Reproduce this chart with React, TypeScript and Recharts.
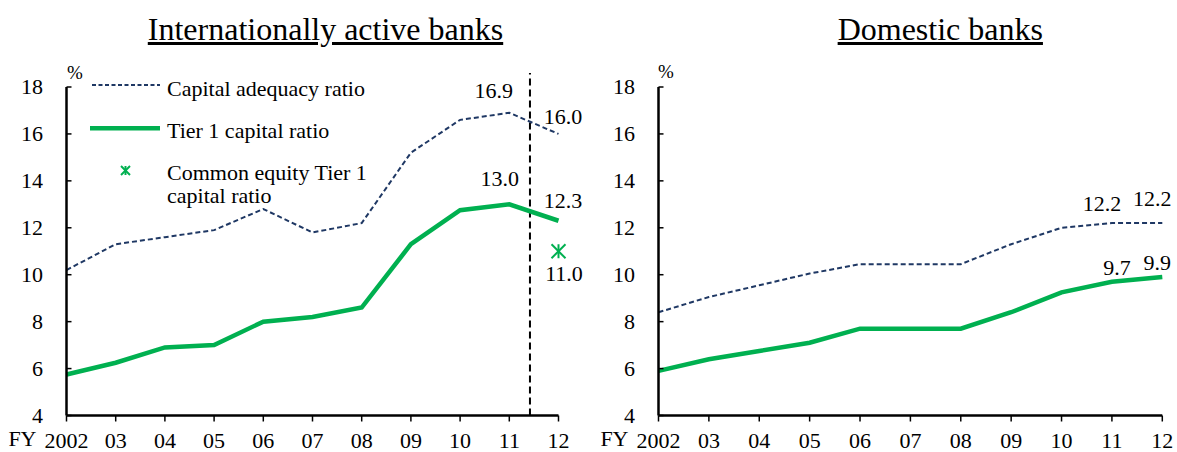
import React from 'react';
import { LineChart, Line, XAxis, YAxis, ReferenceLine, Legend, LabelList } from 'recharts';

// ---------- data ----------
const years = [2002, 2003, 2004, 2005, 2006, 2007, 2008, 2009, 2010, 2011, 2012];
const yearTickLabels = ['2002', '03', '04', '05', '06', '07', '08', '09', '10', '11', '12'];
const yTicks = [4, 6, 8, 10, 12, 14, 16, 18];

const intlCapitalAdequacy = [10.2, 11.3, 11.6, 11.9, 12.8, 11.8, 12.2, 15.2, 16.6, 16.9, 16.0];
const intlTier1 = [5.75, 6.25, 6.9, 7.0, 8.0, 8.2, 8.6, 11.3, 12.75, 13.0, 12.3];
const intlCommonEquityTier1 = [null, null, null, null, null, null, null, null, null, null, 11.0];

const domCapitalAdequacy = [8.4, 9.05, 9.55, 10.05, 10.45, 10.45, 10.45, 11.3, 12.0, 12.2, 12.2];
const domTier1 = [5.9, 6.4, 6.75, 7.1, 7.7, 7.7, 7.7, 8.4, 9.25, 9.7, 9.9];

const cutoverYear = 2011.42;
const cutoverTop = 18.6;

const seriesNames = {
  car: 'Capital adequacy ratio',
  tier1: 'Tier 1 capital ratio',
  cet1: 'Common equity Tier 1 capital ratio',
};

const intlData = years.map((year, i) => ({
  year,
  car: intlCapitalAdequacy[i],
  tier1: intlTier1[i],
  cet1: intlCommonEquityTier1[i],
}));
const domData = years.map((year, i) => ({
  year,
  car: domCapitalAdequacy[i],
  tier1: domTier1[i],
}));

// ---------- styles ----------
const FONT = '"Liberation Serif", "Times New Roman", serif';
const NAVY = '#1F3864';
const GREEN = '#00B050';
const FS = 22;
const Y_TICK_MARGIN = 23.5;

const intlLabelOffsets = {
  car: { 9: [-15.5, -22], 10: [4.5, -17] },
  tier1: { 9: [-9.5, -26], 10: [4.5, -20] },
  cet1: { 10: [5.5, 22] },
};
const domLabelOffsets = {
  car: { 9: [-10, -20], 10: [-10, -25] },
  tier1: { 9: [5, -14], 10: [-5, -15] },
};

function makeLabel(series: (number | null)[], offsets: Record<number, number[]>) {
  return (props: any) => {
    const { index } = props;
    const off = offsets[index];
    const v = series[index];
    if (!off || v == null) return null;
    const vx = props.viewBox && props.viewBox.x != null ? props.viewBox.x : props.x;
    const vy = props.viewBox && props.viewBox.y != null ? props.viewBox.y : props.y;
    return (
      <text
        key={`lbl-${index}`}
        x={vx + off[0]}
        y={vy + off[1]}
        dy="0.34em"
        textAnchor="middle"
        fontSize={FS}
        fontFamily={FONT}
        fill="#000"
      >
        {v.toFixed(1)}
      </text>
    );
  };
}

function Star({ cx, cy, r, sw }: { cx: number; cy: number; r: number; sw: number }) {
  return (
    <g stroke={GREEN} strokeWidth={sw} fill="none">
      <line x1={cx - r} y1={cy - r} x2={cx + r} y2={cy + r} />
      <line x1={cx - r} y1={cy + r} x2={cx + r} y2={cy - r} />
      <line x1={cx} y1={cy - r} x2={cx} y2={cy + r} />
    </g>
  );
}

function makeYTick(pctDx: number, pctDy: number) {
  return (props: any) => {
    const { x, y, payload } = props;
    const ax = x + Y_TICK_MARGIN;
    return (
      <g>
        <line x1={ax} x2={ax + 5} y1={y} y2={y} stroke="#000" strokeWidth={1.5} />
        <text x={x} y={y} dy="0.34em" textAnchor="end" fontSize={FS} fontFamily={FONT} fill="#000">
          {payload.value}
        </text>
        {payload.value === 18 && (
          <text x={ax + pctDx} y={y + pctDy} dy="0.34em" textAnchor="middle" fontSize={19} fontFamily={FONT} fill="#000">
            %
          </text>
        )}
      </g>
    );
  };
}

function XTick(props: any) {
  const { x, y, payload } = props;
  const i = years.indexOf(payload.value);
  return (
    <g>
      <text x={x} y={y} dy="0.71em" textAnchor="middle" fontSize={FS} fontFamily={FONT} fill="#000">
        {yearTickLabels[i]}
      </text>
      {i === 0 && (
        <text x={x - 30} y={y - 2} dy="0.71em" textAnchor="end" fontSize={FS} fontFamily={FONT} fill="#000">
          FY
        </text>
      )}
    </g>
  );
}

function IntlLegend() {
  const t = { fontSize: FS, fontFamily: FONT, fill: '#000' };
  return (
    <svg width={340} height={215} style={{ display: 'block', overflow: 'visible' }}>
      <line x1={92} x2={160} y1={85} y2={85} stroke={NAVY} strokeWidth={2} strokeDasharray="4 2.5" />
      <text x={167} y={95.5} {...t}>{seriesNames.car}</text>
      <line x1={90} x2={160} y1={128.3} y2={128.3} stroke={GREEN} strokeWidth={4.5} />
      <text x={167} y={138.3} {...t}>{seriesNames.tier1}</text>
      <Star cx={125.5} cy={170.5} r={4.5} sw={2} />
      <text x={167} y={180} {...t}>Common equity Tier 1</text>
      <text x={167} y={202.7} {...t}>capital ratio</text>
    </svg>
  );
}

const axisLineStyle = { stroke: '#000', strokeWidth: 2.5 };

function IntlChart() {
  return (
    <LineChart
      width={600}
      height={452}
      data={intlData}
      margin={{ top: 87, right: 600 - 558.5, bottom: 6.5, left: 0 }}
    >
      <XAxis
        dataKey="year"
        type="number"
        domain={[2002, 2012]}
        ticks={years}
        interval={0}
        axisLine={axisLineStyle}
        tickLine={{ stroke: '#000', strokeWidth: 1.5 }}
        tickSize={6}
        tickMargin={11}
        height={30}
        tick={<XTick />}
      />
      <YAxis
        type="number"
        domain={[4, 18]}
        ticks={yTicks}
        interval={0}
        width={66.5}
        axisLine={axisLineStyle}
        tickLine={false}
        tickSize={0}
        tickMargin={Y_TICK_MARGIN}
        tick={makeYTick(8.5, -14)}
      />
      <ReferenceLine
        segment={[
          { x: cutoverYear, y: 4 },
          { x: cutoverYear, y: cutoverTop },
        ]}
        stroke="#000"
        strokeWidth={2}
        strokeDasharray="7 4"
        ifOverflow="visible"
      />
      <Line
        dataKey="car"
        name={seriesNames.car}
        stroke={NAVY}
        strokeWidth={2}
        strokeDasharray="5 3"
        dot={false}
        activeDot={false}
        isAnimationActive={false}
      >
        <LabelList dataKey="car" content={makeLabel(intlCapitalAdequacy, intlLabelOffsets.car)} />
      </Line>
      <Line
        dataKey="tier1"
        name={seriesNames.tier1}
        stroke={GREEN}
        strokeWidth={4.5}
        dot={false}
        activeDot={false}
        isAnimationActive={false}
      >
        <LabelList dataKey="tier1" content={makeLabel(intlTier1, intlLabelOffsets.tier1)} />
      </Line>
      <Line
        dataKey="cet1"
        name={seriesNames.cet1}
        stroke="none"
        activeDot={false}
        isAnimationActive={false}
        dot={(p: any) =>
          p.value == null || p.cy == null ? (
            <g key={`cet1-${p.index}`} />
          ) : (
            <g key={`cet1-${p.index}`}>
              <Star cx={p.cx} cy={p.cy} r={7} sw={2} />
            </g>
          )
        }
      >
        <LabelList dataKey="cet1" content={makeLabel(intlCommonEquityTier1, intlLabelOffsets.cet1)} />
      </Line>
      <Legend
        layout="vertical"
        align="center"
        verticalAlign="middle"
        wrapperStyle={{ left: 0, top: 0, width: 340, height: 215 }}
        content={() => <IntlLegend />}
      />
    </LineChart>
  );
}

function DomChart() {
  return (
    <LineChart
      width={577}
      height={452}
      data={domData}
      margin={{ top: 87, right: 577 - 562.3, bottom: 6.5, left: 0 }}
    >
      <XAxis
        dataKey="year"
        type="number"
        domain={[2002, 2012]}
        ticks={years}
        interval={0}
        axisLine={axisLineStyle}
        tickLine={{ stroke: '#000', strokeWidth: 1.5 }}
        tickSize={6}
        tickMargin={11}
        height={30}
        tick={<XTick />}
      />
      <YAxis
        type="number"
        domain={[4, 18]}
        ticks={yTicks}
        interval={0}
        width={58.5}
        axisLine={axisLineStyle}
        tickLine={false}
        tickSize={0}
        tickMargin={Y_TICK_MARGIN}
        tick={makeYTick(7.5, -15)}
      />
      <Line
        dataKey="car"
        name={seriesNames.car}
        stroke={NAVY}
        strokeWidth={2}
        strokeDasharray="5 3"
        dot={false}
        activeDot={false}
        isAnimationActive={false}
      >
        <LabelList dataKey="car" content={makeLabel(domCapitalAdequacy, domLabelOffsets.car)} />
      </Line>
      <Line
        dataKey="tier1"
        name={seriesNames.tier1}
        stroke={GREEN}
        strokeWidth={4.5}
        dot={false}
        activeDot={false}
        isAnimationActive={false}
      >
        <LabelList dataKey="tier1" content={makeLabel(domTier1, domLabelOffsets.tier1)} />
      </Line>
    </LineChart>
  );
}

const titleStyle: React.CSSProperties = {
  position: 'absolute',
  top: 12.5,
  width: 500,
  textAlign: 'center',
  fontFamily: FONT,
  fontSize: 32,
  lineHeight: '32px',
  textDecoration: 'underline',
  color: '#000',
  whiteSpace: 'nowrap',
};

export default function App() {
  return (
    <div style={{ position: 'absolute', left: 0, top: 0, width: 1177, height: 452, background: '#fff', overflow: 'hidden' }}>
      <div style={{ position: 'absolute', left: 0, top: 0 }}>
        <IntlChart />
      </div>
      <div style={{ position: 'absolute', left: 600, top: 0 }}>
        <DomChart />
      </div>
      <div style={{ ...titleStyle, left: 325.5 - 250 }}>Internationally active banks</div>
      <div style={{ ...titleStyle, left: 940.3 - 250 }}>Domestic banks</div>
    </div>
  );
}
